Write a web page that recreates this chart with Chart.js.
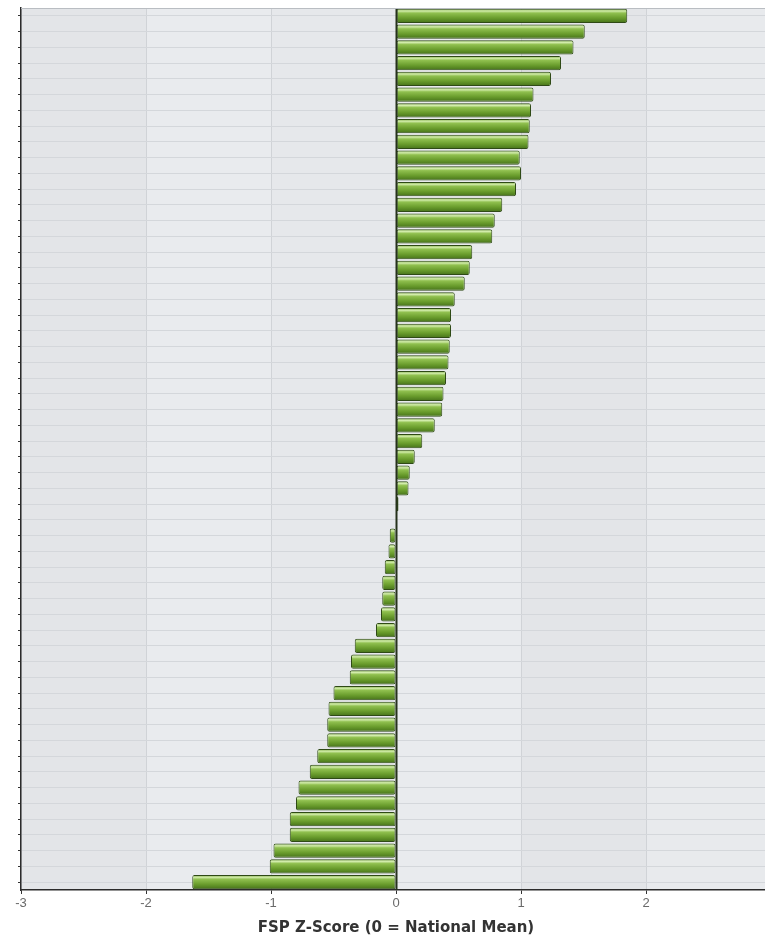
<!DOCTYPE html>
<html><head><meta charset="utf-8">
<script src="https://cdn.jsdelivr.net/npm/chart.js@4/dist/chart.umd.min.js"></script>
<style>html,body{margin:0;padding:0;background:#fff;overflow:hidden}#wrap{width:780px;height:939px;position:relative}</style>
</head><body><div id="wrap"><canvas id="c"></canvas></div>
<script>
const categories = ['1','2','3','4','5','6','7','8','9','10','11','12','13','14','15','16','17','18','19','20','21','22','23','24','25','26','27','28','29','30','31','32','33','34','35','36','37','38','39','40','41','42','43','44','45','46','47','48','49','50','51','52','53','54','55','56'];
const zScores = [1.85,1.51,1.42,1.32,1.24,1.10,1.08,1.07,1.06,0.99,1.00,0.96,0.85,0.79,0.77,0.61,0.59,0.55,0.47,0.44,0.44,0.43,0.42,0.40,0.38,0.37,0.31,0.21,0.15,0.11,0.10,0.02,null,-0.05,-0.06,-0.09,-0.11,-0.11,-0.12,-0.16,-0.33,-0.36,-0.37,-0.50,-0.54,-0.55,-0.55,-0.63,-0.69,-0.78,-0.80,-0.85,-0.85,-0.98,-1.01,-1.63];
const xMin = -3, xMax = 3, xStep = 1;
const axisTitle = 'FSP Z-Score (0 = National Mean)';

function barFill(ctx){
  const chart = ctx.chart; const ys = chart.scales.y;
  if (!ys || ctx.dataIndex === undefined || !chart.chartArea) return '#6a9a2e';
  const c = ys.getPixelForValue(ctx.dataIndex);
  const h = 7;
  const g = chart.ctx.createLinearGradient(0, c - h, 0, c + h);
  g.addColorStop(0, '#74a338');
  g.addColorStop(0.15, '#d2ecab');
  g.addColorStop(0.3, '#90c04f');
  g.addColorStop(0.65, '#6a9d2d');
  g.addColorStop(1, '#46721a');
  return g;
}

const bgPlugin = {
  id: 'bg',
  beforeDraw(chart){
    const {ctx, chartArea: a, scales: {x}} = chart;
    const bands = ['#e3e5e8','#e9ebee','#e6e8eb','#e9ebee','#e3e5e8','#e8eaed'];
    ctx.save();
    for (let v = xMin, i = 0; v < xMax; v += xStep, i++) {
      const l = x.getPixelForValue(v), r = x.getPixelForValue(v + xStep);
      ctx.fillStyle = bands[i % bands.length];
      ctx.fillRect(l, a.top, r - l, a.bottom - a.top);
    }
    ctx.restore();
  },
  afterDatasetsDraw(chart){
    const {ctx, chartArea: a, scales: {x}} = chart;
    ctx.save();
    const z = Math.round(x.getPixelForValue(0)) + 0.5;
    ctx.strokeStyle = '#26321c'; ctx.lineWidth = 2;
    ctx.beginPath(); ctx.moveTo(z, a.top); ctx.lineTo(z, a.bottom); ctx.stroke();
    ctx.strokeStyle = '#b9bdc2'; ctx.lineWidth = 1;
    ctx.beginPath(); ctx.moveTo(a.left, a.top + 0.5); ctx.lineTo(a.right, a.top + 0.5); ctx.stroke();
    ctx.restore();
  }
};

new Chart(document.getElementById('c'), {
  type: 'bar',
  data: {
    labels: categories,
    datasets: [{
      data: zScores,
      backgroundColor: barFill,
      borderColor: '#2f4a16',
      borderWidth: 1,
      borderSkipped: false,
      borderRadius: 2,
      barPercentage: 0.9,
      categoryPercentage: 1
    }]
  },
  options: {
    indexAxis: 'y',
    responsive: true,
    maintainAspectRatio: false,
    animation: false,
    layout: { padding: { top: 8, right: 9, left: 0, bottom: 0 } },
    plugins: { legend: { display: false }, tooltip: { enabled: false } },
    scales: {
      x: {
        type: 'linear', min: xMin, max: xMax,
        ticks: { stepSize: xStep, color: '#6a6a6a', font: { family: 'Liberation Sans, Arial, sans-serif', size: 13 }, padding: 2 },
        grid: {
          color: '#d0d3d7', lineWidth: 1, drawTicks: true, tickLength: 4, tickColor: '#333'
        },
        border: { color: '#2b2b2b', width: 1.5 },
        title: { display: true, text: axisTitle, color: '#333', font: { family: 'DejaVu Sans, sans-serif', size: 15, weight: 'bold' }, padding: { top: 8, bottom: 2 } },
        afterFit(s){ s.height = 49; }
      },
      y: {
        type: 'category',
        ticks: { callback: () => '', autoSkip: false, padding: 0 },
        grid: { offset: false, color: '#d4d7db', lineWidth: 1, drawTicks: true, tickLength: 3, tickColor: '#333' },
        border: { color: '#2b2b2b', width: 1.5 },
        afterFit(s){ s.width = 21; }
      }
    }
  },
  plugins: [bgPlugin]
});
</script>
</body></html>
